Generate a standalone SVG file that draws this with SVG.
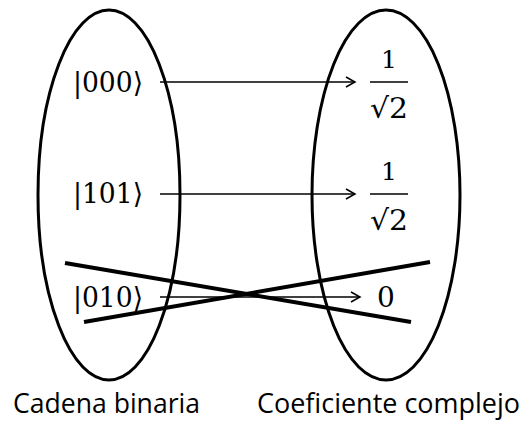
<svg xmlns="http://www.w3.org/2000/svg" width="524" height="423" viewBox="0 0 524 423">
<style>
.ell{fill:none;stroke:#000;stroke-width:3}
.m{font-family:"DejaVu Serif","Liberation Serif",serif;font-size:28px;fill:#000}
.one{font-family:"DejaVu Serif","Liberation Serif",serif;font-size:25px;fill:#000}
.lab{font-family:"Open Sans","Liberation Sans",sans-serif;font-size:27px;fill:#000}
.arr{stroke:#000;stroke-width:1.5;fill:none}
.x{stroke:#000;stroke-width:4;fill:none}
</style>
<defs>
<marker id="ah" markerWidth="12" markerHeight="12" refX="10" refY="6" orient="auto" markerUnits="userSpaceOnUse">
<path d="M1,1 L10,6 L1,11" fill="none" stroke="#000" stroke-width="1.5"/>
</marker>
</defs>
<g id="left-set">
<ellipse class="ell" cx="109" cy="195" rx="71" ry="185"/>
<text class="m" x="73" y="92" textLength="70" lengthAdjust="spacingAndGlyphs">|000⟩</text>
<text class="m" x="73" y="203" textLength="70" lengthAdjust="spacingAndGlyphs">|101⟩</text>
<text class="m" x="73" y="307" textLength="70" lengthAdjust="spacingAndGlyphs">|010⟩</text>
</g>
<g id="right-set">
<ellipse class="ell" cx="386" cy="195" rx="74" ry="185"/>
<g id="c1">
<text class="one" x="389" y="68" text-anchor="middle">1</text>
<line x1="370" y1="82" x2="408" y2="82" stroke="#000" stroke-width="1.5"/>
<text class="m" x="370" y="118" textLength="38" lengthAdjust="spacingAndGlyphs">√2</text>
</g>
<g id="c2">
<text class="one" x="389" y="180" text-anchor="middle">1</text>
<line x1="370" y1="194" x2="408" y2="194" stroke="#000" stroke-width="1.5"/>
<text class="m" x="370" y="230" textLength="38" lengthAdjust="spacingAndGlyphs">√2</text>
</g>
<text class="m" x="386" y="307" text-anchor="middle">0</text>
</g>
<g id="connectors">
<line class="arr" x1="160" y1="82" x2="355" y2="82" marker-end="url(#ah)"/>
<line class="arr" x1="160" y1="194" x2="355" y2="194" marker-end="url(#ah)"/>
<line class="arr" x1="160" y1="297" x2="360" y2="297" marker-end="url(#ah)"/>
</g>
<g id="cross">
<line class="x" x1="65" y1="263" x2="411" y2="322"/>
<line class="x" x1="84" y1="322" x2="430" y2="262"/>
</g>
<text class="lab" x="13" y="413" textLength="187" lengthAdjust="spacingAndGlyphs">Cadena binaria</text>
<text class="lab" x="257" y="413" textLength="263" lengthAdjust="spacingAndGlyphs">Coeficiente complejo</text>
</svg>
